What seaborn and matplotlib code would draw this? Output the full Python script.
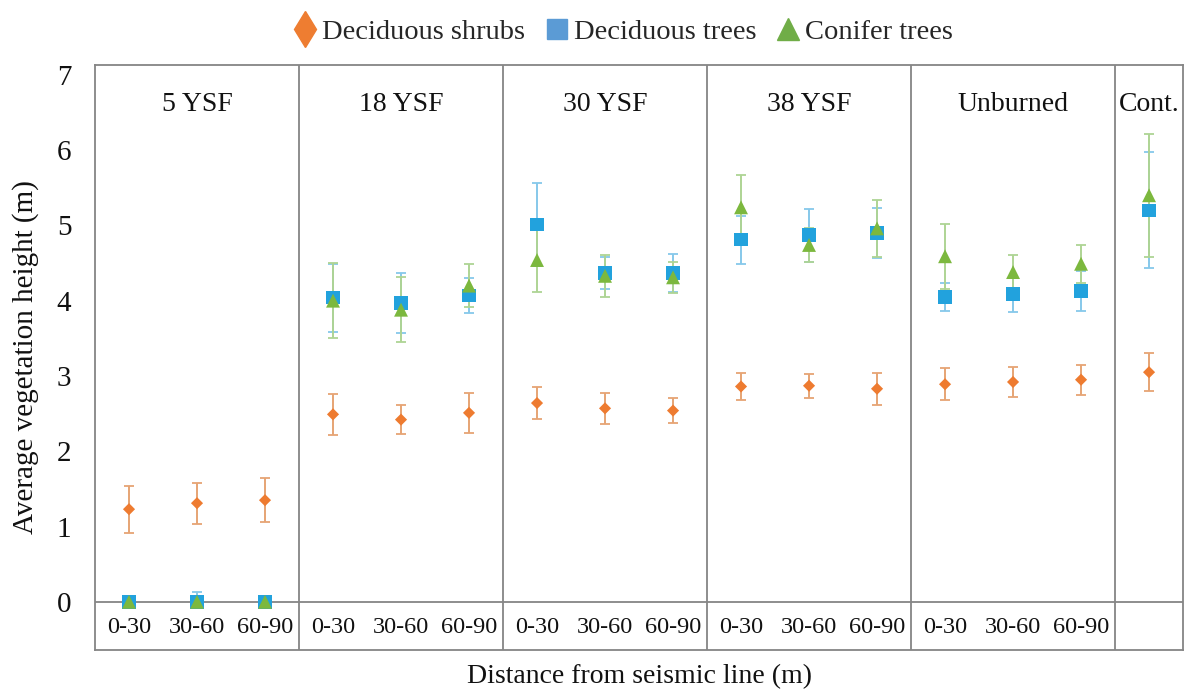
import matplotlib
matplotlib.use("Agg")
import numpy as np
import pandas as pd
import matplotlib.pyplot as plt
import seaborn as sns
from matplotlib.lines import Line2D

# Sites (years since fire) and distance classes from the seismic line
sites = ["5 YSF", "18 YSF", "30 YSF", "38 YSF", "Unburned", "Cont."]
distances = ["0-30", "30-60", "60-90"]
groups = ["Deciduous shrubs", "Deciduous trees", "Conifer trees"]

# Mean height (m) and error half-width, 3 distance classes per burned/unburned site + control
shrub_mean = [1.23, 1.31, 1.35, 2.49, 2.42, 2.51, 2.64, 2.57, 2.54,
              2.86, 2.87, 2.83, 2.89, 2.92, 2.95, 3.05]
shrub_err = [0.31, 0.27, 0.29, 0.27, 0.19, 0.27, 0.21, 0.21, 0.17,
             0.18, 0.16, 0.21, 0.21, 0.20, 0.20, 0.25]

dtree_mean = [0.00, 0.00, 0.00, 4.04, 3.97, 4.07, 5.01, 4.37, 4.37,
              4.81, 4.87, 4.90, 4.05, 4.09, 4.13, 5.20]
dtree_err = [0.00, 0.13, 0.00, 0.45, 0.40, 0.23, 0.55, 0.21, 0.25,
             0.32, 0.35, 0.33, 0.19, 0.24, 0.27, 0.77]

conifer_mean = [0.00, 0.00, 0.00, 4.00, 3.88, 4.20, 4.54, 4.33, 4.31,
                5.24, 4.74, 4.96, 4.59, 4.38, 4.49, 5.40]
conifer_err = [0.00, 0.00, 0.00, 0.50, 0.43, 0.29, 0.42, 0.28, 0.21,
               0.43, 0.23, 0.38, 0.43, 0.23, 0.25, 0.82]

y_ticks = [0, 1, 2, 3, 4, 5, 6, 7]

# Long-format table: one row per site/distance/group
rows = []
slot = 0
for s in sites:
    ds = [""] if s == "Cont." else distances
    for d in ds:
        rows.append((s, d, slot))
        slot += 1
base = pd.DataFrame(rows, columns=["site", "distance", "slot"])
base["x"] = base["slot"] + 0.5

frames = []
for g, m, e in zip(groups, [shrub_mean, dtree_mean, conifer_mean],
                   [shrub_err, dtree_err, conifer_err]):
    f = base.copy()
    f["group"] = g
    f["height"] = m
    f["err"] = e
    frames.append(f)
df = pd.concat(frames, ignore_index=True)

sns.set_theme(style="white")
plt.rcParams["font.family"] = ["Liberation Serif", "DejaVu Serif"]

fig = plt.figure(figsize=(11.89, 6.94), dpi=100)
ax = fig.add_axes([0.0799, 0.0634, 0.9151, 0.8429])

styles = {
    "Deciduous shrubs": dict(marker="D", size=38, color="#EE7B30", ecolor="#E6A474"),
    "Conifer trees": dict(marker="^", size=100, color="#7CB83E", ecolor="#AED494"),
    "Deciduous trees": dict(marker="s", size=95, color="#22A2DD", ecolor="#86C8EA"),
}
draw_order = ["Deciduous shrubs", "Deciduous trees", "Conifer trees"]

for g in draw_order:
    st = styles[g]
    sub = df[df["group"] == g]
    eb = sub[sub["err"] > 0]
    # heights cannot go below zero, so the lower whisker stops at the baseline
    lower = np.minimum(eb["err"].to_numpy(), eb["height"].to_numpy())
    upper = eb["err"].to_numpy()
    ax.errorbar(eb["x"], eb["height"], yerr=[lower, upper], fmt="none",
                ecolor=st["ecolor"], elinewidth=1.4, capsize=3.5, capthick=1.3,
                zorder=2)
for g in draw_order:
    st = styles[g]
    sub = df[df["group"] == g]
    sns.scatterplot(data=sub, x="x", y="height", marker=st["marker"],
                    s=st["size"], color=st["color"], edgecolor="none",
                    ax=ax, zorder=3, legend=False)

n_slots = len(base)
ax.set_xlim(0, n_slots)
ax.set_ylim(-0.64, 7.13)

frame_col = "#858585"
for sp in ax.spines.values():
    sp.set_color(frame_col)
    sp.set_linewidth(1.3)
ax.axhline(0, color=frame_col, lw=1.3, zorder=1)
for b in range(3, n_slots, 3):
    ax.axvline(b, color=frame_col, lw=1.3, zorder=1)

# Site titles and distance labels
for i, s in enumerate(sites):
    start = i * 3
    width = 1 if s == "Cont." else 3
    ax.text(start + width / 2, 6.6, s, ha="center", va="center", fontsize=20,
            color="#111111")
for _, r in base.iterrows():
    if r["distance"]:
        ax.text(r["x"], -0.34, r["distance"], ha="center", va="center",
                fontsize=17.5, color="#111111")

ax.set_xticks([])
ax.set_yticks(y_ticks)
ax.set_yticklabels([str(t) for t in y_ticks], fontsize=21, color="#111111")
ax.tick_params(axis="y", length=0, pad=17)
ax.set_xlabel("Distance from seismic line (m)", fontsize=20, color="#111111",
              labelpad=10)
ax.set_ylabel("Average vegetation height (m)", fontsize=21, color="#111111",
              labelpad=13)

handles = [
    Line2D([], [], ls="none", marker="d", markersize=18, color="#EE7D31"),
    Line2D([], [], ls="none", marker="s", markersize=14, color="#5B9BD5"),
    Line2D([], [], ls="none", marker="^", markersize=16, color="#70AD47"),
]
fig.legend(handles, groups, loc="upper center", bbox_to_anchor=(0.523, 1.01),
           ncol=3, frameon=False, fontsize=20.5, handletextpad=0.1,
           columnspacing=0.6, handlelength=1.0)

fig.savefig("out.png", dpi=100, facecolor="white")
